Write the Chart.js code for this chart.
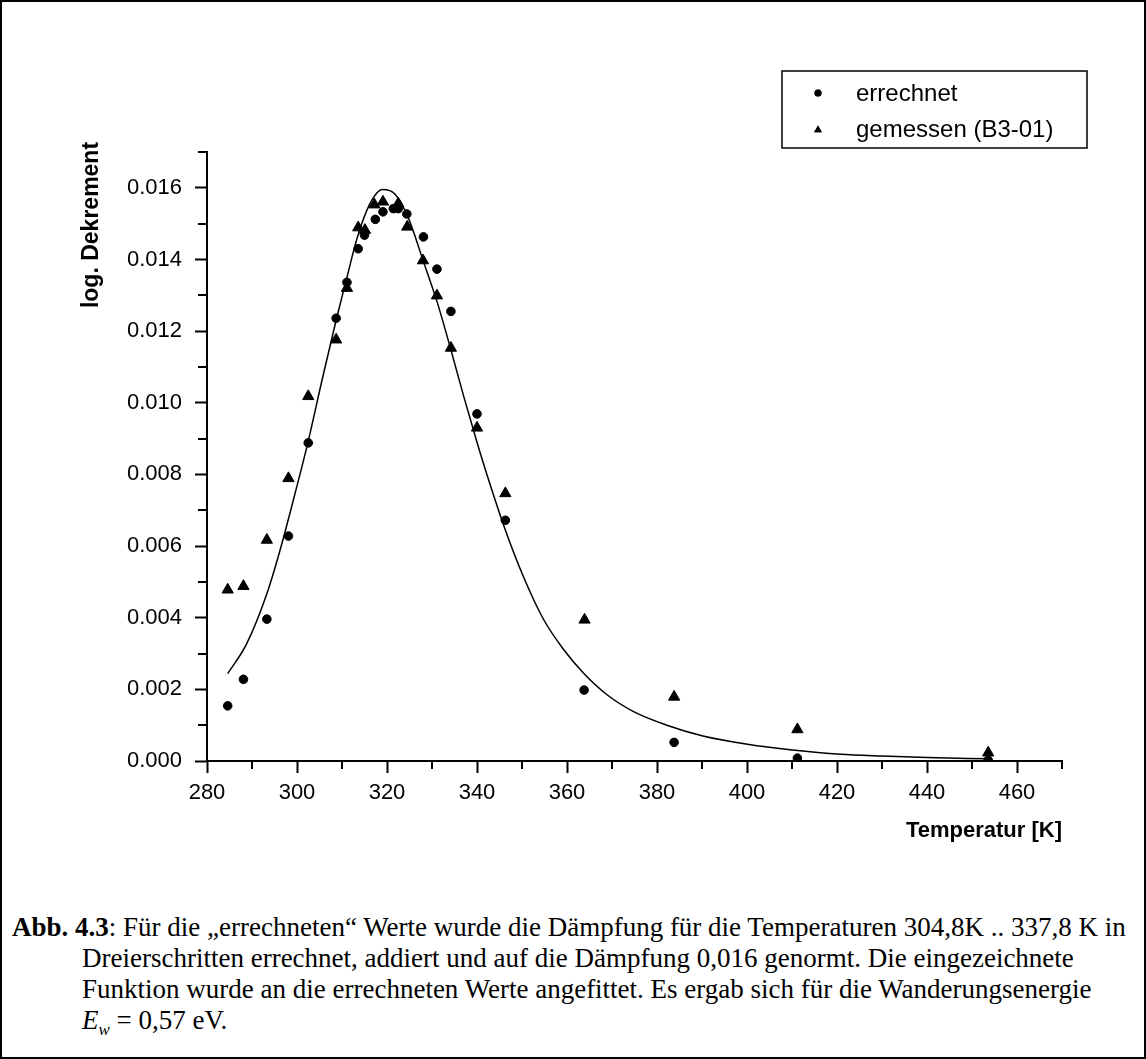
<!DOCTYPE html>
<html>
<head>
<meta charset="utf-8">
<script src="https://cdn.jsdelivr.net/npm/chart.js@4.4.1/dist/chart.umd.min.js"></script>
<style>
  body { margin: 0; background: #fff; }
  #page { position: relative; width: 1146px; height: 1059px; }
  #frame { position: absolute; left: 0; top: 0; width: 1146px; height: 1059px; box-sizing: border-box; border: 2px solid #000; }
  #plot { position: absolute; left: 0; top: 0; width: 1146px; height: 860px; }
  #caption {
    position: absolute; left: 12px; top: 912px;
    font-family: "Liberation Serif", "Times New Roman", serif;
    font-size: 27px; line-height: 31px; color: #000;
    white-space: nowrap;
  }
  #caption .ind { padding-left: 70px; }
</style>
</head>
<body>
<div id="page">
  <div id="plot"><canvas id="myChart"></canvas></div>
  <div id="caption">
    <div><b>Abb. 4.3</b>: Für die „errechneten“ Werte wurde die Dämpfung für die Temperaturen 304,8K .. 337,8 K in</div>
    <div class="ind">Dreierschritten errechnet, addiert und auf die Dämpfung 0,016 genormt. Die eingezeichnete</div>
    <div class="ind">Funktion wurde an die errechneten Werte angefittet. Es ergab sich für die Wanderungsenergie</div>
    <div class="ind"><i>E<sub style="font-size:17px">w</sub></i> = 0,57 eV.</div>
  </div>
  <div id="frame"></div>
</div>
<script>
// errechnet (circles)
const calcT = [284.6, 288.1, 293.3, 298.1, 302.5, 308.7, 311.1, 313.6, 315.0, 317.4, 319.1, 321.4,
  322.5, 324.4, 328.1, 331.1, 334.2, 340.0, 346.3, 363.8, 383.8, 411.2, 453.6]
const calcV = [0.00154, 0.00228, 0.00396, 0.00628, 0.00888, 0.01236, 0.01336, 0.01430, 0.01468, 0.01512,
  0.01533, 0.01542, 0.01542, 0.01527, 0.01463, 0.01373, 0.01255, 0.00969, 0.00672, 0.00198, 0.00052,
  0.00008, 0.00002]

// gemessen (B3-01) (triangles)
const measT = [284.6, 288.1, 293.3, 298.1, 302.5, 308.7, 311.1, 313.6, 315.1, 317.2, 319.1, 322.5,
  324.5, 328.0, 331.1, 334.2, 340.0, 346.3, 363.9, 383.8, 411.2, 453.6]
const measV = [0.00478, 0.00488, 0.00617, 0.00789, 0.01018, 0.01176, 0.01320, 0.01489, 0.01482, 0.01553,
  0.01561, 0.01556, 0.01491, 0.01397, 0.01299, 0.01153, 0.00930, 0.00747, 0.00394, 0.00179, 0.00088,
  0.00023]

// fitted curve
const fitT = [284.6, 288.8, 293.3, 296.2, 299.9, 302.5, 305.5, 308.8, 311.1, 313.3, 316.1, 319.0,
  321.8, 324.8, 328.1, 331.1, 334.0, 337.0, 340.0, 342.2, 346.3, 350.3, 354.8, 359.2, 363.7, 368.9,
  374.8, 382.2, 390.2, 400.1, 410.1, 420.8, 430.0, 440.0, 453.6]
const fitV = [0.00244, 0.00327, 0.00467, 0.00587, 0.00763, 0.00893, 0.01060, 0.01236, 0.01350, 0.01457,
  0.01553, 0.01595, 0.01582, 0.01514, 0.01394, 0.01283, 0.01157, 0.01020, 0.00890, 0.00800, 0.00645,
  0.00515, 0.00395, 0.00312, 0.00245, 0.00185, 0.00138, 0.00100, 0.00070, 0.00047, 0.00031, 0.00019,
  0.00014, 0.00010, 0.00006]

const legendLabels = ['errechnet', 'gemessen (B3-01)']
const xTitle = 'Temperatur [K]'
const yTitle = 'log. Dekrement'

const xz = (xs, ys) => xs.map((x, i) => ({ x: x, y: ys[i] }))
const sans = '"Liberation Sans", Arial, sans-serif'

// small ticks between the labelled ones
const minorTicks = {
  id: 'minorTicks',
  afterDraw(chart) {
    const { ctx } = chart
    const x = chart.scales.x
    const y = chart.scales.y
    ctx.save()
    ctx.strokeStyle = '#000'
    ctx.lineWidth = 2
    ctx.beginPath()
    for (let v = x.min + 10; v <= x.max + 0.01; v += 20) {
      const px = Math.round(x.getPixelForValue(v))
      ctx.moveTo(px, x.top)
      ctx.lineTo(px, x.top + 8)
    }
    for (let v = y.min + 0.001; v <= y.max + 0.00001; v += 0.002) {
      const py = Math.round(y.getPixelForValue(v))
      ctx.moveTo(y.right, py)
      ctx.lineTo(y.right - 9, py)
    }
    ctx.stroke()
    ctx.restore()
  }
}

// axis titles and the boxed legend
const decorations = {
  id: 'decorations',
  afterDraw(chart) {
    const { ctx, chartArea } = chart
    ctx.save()
    ctx.fillStyle = '#000'

    ctx.font = 'bold 22px ' + sans
    ctx.textAlign = 'right'
    ctx.textBaseline = 'middle'
    ctx.fillText(xTitle, chartArea.right, chartArea.bottom + 70)

    ctx.translate(92, chartArea.top + 73)
    ctx.rotate(-Math.PI / 2)
    ctx.font = 'bold 23px ' + sans
    ctx.textAlign = 'center'
    ctx.fillText(yTitle, 0, 0)
    ctx.restore()

    // legend
    ctx.save()
    ctx.strokeStyle = '#000'
    ctx.lineWidth = 1.5
    ctx.strokeRect(782, 71, 305, 77)
    ctx.fillStyle = '#000'
    Chart.helpers.drawPoint(ctx, { pointStyle: 'circle', radius: 3.5, rotation: 0, borderWidth: 0 }, 818, 93)
    ctx.fill()
    Chart.helpers.drawPoint(ctx, { pointStyle: 'triangle', radius: 4.5, rotation: 0, borderWidth: 0 }, 818, 130)
    ctx.fill()
    ctx.font = '24px ' + sans
    ctx.textAlign = 'left'
    ctx.textBaseline = 'middle'
    ctx.fillText(legendLabels[0], 856, 94)
    ctx.fillText(legendLabels[1], 856, 130)
    ctx.restore()
  }
}

const ctx = document.getElementById('myChart').getContext('2d')

const data = {
  datasets: [{
    label: legendLabels[0],
    type: 'scatter',
    data: xz(calcT, calcV),
    pointStyle: 'circle',
    pointRadius: 4.3,
    borderWidth: 1,
    backgroundColor: '#000',
    borderColor: '#000'
  },
  {
    label: legendLabels[1],
    type: 'scatter',
    data: xz(measT, measV),
    pointStyle: 'triangle',
    pointRadius: 6.5,
    borderWidth: 1,
    backgroundColor: '#000',
    borderColor: '#000'
  },
  {
    label: 'Fit',
    type: 'line',
    data: xz(fitT, fitV),
    pointRadius: 0,
    borderWidth: 1.5,
    borderColor: '#000',
    cubicInterpolationMode: 'monotone',
    fill: false
  }]
}

const options = {
  responsive: true,
  maintainAspectRatio: false,
  animation: false,
  devicePixelRatio: 1,
  layout: { padding: { left: 0, top: 152, right: 84, bottom: 0 } },
  plugins: { legend: { display: false }, tooltip: { enabled: false } },
  scales: {
    x: {
      type: 'linear',
      min: 280,
      max: 470,
      afterFit(scale) { scale.height = 99 },
      border: { display: true, color: '#000', width: 2 },
      grid: { drawOnChartArea: false, drawTicks: true, tickLength: 12, tickColor: '#000', tickWidth: 2 },
      ticks: {
        stepSize: 20,
        includeBounds: false,
        autoSkip: false,
        maxRotation: 0,
        padding: 7,
        color: '#000',
        font: { family: sans, size: 22 }
      }
    },
    y: {
      type: 'linear',
      min: 0,
      max: 0.017,
      afterFit(scale) { scale.width = 207 },
      border: { display: true, color: '#000', width: 2 },
      grid: { drawOnChartArea: false, drawTicks: true, tickLength: 12, tickColor: '#000', tickWidth: 2 },
      ticks: {
        stepSize: 0.002,
        includeBounds: false,
        padding: 13,
        color: '#000',
        font: { family: sans, size: 22 },
        callback: v => v.toFixed(3)
      }
    }
  }
}

const config = {
  type: 'scatter',
  data: data,
  options: options,
  plugins: [minorTicks, decorations]
}

const myChart = new Chart(ctx, config)
</script>
</body>
</html>
